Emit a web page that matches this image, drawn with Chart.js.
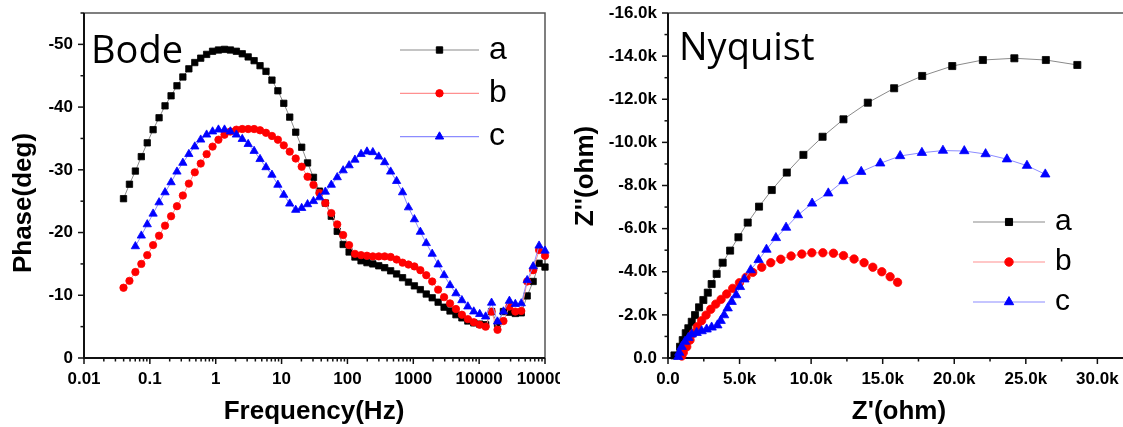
<!DOCTYPE html>
<html lang="en">
<head>
<meta charset="UTF-8">
<title>Bode and Nyquist plots</title>
<style>
  body { margin: 0; width: 1123px; height: 427px; overflow: hidden; background: #fff; position: relative; }
  canvas { position: absolute; top: 0; }
  #bode { left: 0; }
  #nyquist { left: 560px; }
</style>
</head>
<body>
<canvas id="bode" width="560" height="427"></canvas>
<canvas id="nyquist" width="575" height="427"></canvas>
<script src="https://cdn.jsdelivr.net/npm/chart.js"></script>
<script>
// ---- Bode data (frequency in Hz, phase in degrees) ----
const freqHz = [0.0398, 0.0490, 0.0603, 0.0742, 0.0913, 0.112, 0.138, 0.170, 0.210, 0.258,
  0.317, 0.391, 0.481, 0.592, 0.728, 0.896, 1.10, 1.36, 1.67, 2.06,
  2.53, 3.11, 3.83, 4.71, 5.80, 7.14, 8.79, 10.8, 13.3, 16.4,
  20.2, 24.8, 30.5, 37.6, 46.2, 56.9, 70.0, 86.1, 106, 130,
  161, 198, 243, 299, 368, 453, 558, 687, 845, 1040,
  1280, 1574, 1937, 2384, 2935, 3612, 4445, 5470, 6732, 8285,
  10200, 12550, 15440, 19010, 23390, 28790, 35430, 43600, 53660, 66040,
  81270, 100000];
const phaseA = [-25.4, -27.7, -29.8, -32.1, -34.3, -36.4, -38.3, -40.2, -41.8, -43.4,
  -44.8, -46.1, -47.1, -47.8, -48.4, -48.9, -49.1, -49.2, -49.1, -48.9,
  -48.5, -48.0, -47.4, -46.6, -45.7, -44.3, -42.6, -40.6, -38.4, -36.0,
  -33.6, -31.1, -28.8, -26.6, -24.7, -22.6, -20.2, -18.1, -16.9, -16.1,
  -15.5, -15.2, -15.0, -14.7, -14.4, -13.9, -13.4, -12.8, -12.1, -11.5,
  -10.9, -10.2, -9.6, -8.9, -8.1, -7.5, -6.9, -6.4, -5.9, -5.6,
  -5.4, -5.3, -7.4, -5.5, -7.4, -7.3, -7.1, -7.2, -9.9, -12.2,
  -15.1, -14.5];
const phaseB = [-11.2, -12.3, -13.7, -15.0, -16.4, -18.0, -19.5, -21.1, -22.6, -24.2,
  -25.9, -27.8, -29.6, -31.0, -32.5, -33.7, -34.8, -35.6, -36.1, -36.4,
  -36.5, -36.5, -36.5, -36.3, -35.9, -35.4, -34.8, -33.9, -32.9, -31.8,
  -30.5, -28.9, -27.6, -26.3, -24.7, -23.1, -21.3, -19.6, -18.0, -16.6,
  -16.4, -16.3, -16.2, -16.2, -16.2, -16.1, -15.7, -15.2, -14.9, -14.6,
  -14.0, -13.2, -12.2, -10.9, -9.7, -8.7, -7.8, -6.9, -6.2, -5.7,
  -5.3, -5.0, -7.4, -4.5, -5.9, -8.2, -7.4, -7.5, -12.2, -14.0,
  -17.2, -16.3];
// series c starts at the third frequency
const phaseC = [-17.8, -19.5, -21.3, -23.0, -24.8, -26.4, -28.0, -29.7,
  -31.1, -32.5, -33.7, -34.8, -35.6, -36.1, -36.4, -36.4, -36.1, -35.6,
  -34.9, -34.1, -33.0, -31.7, -30.4, -29.2, -27.6, -26.0, -24.6, -23.6,
  -23.9, -24.5, -25.0, -25.6, -26.5, -27.6, -28.8, -29.9, -30.7, -31.6,
  -32.5, -32.9, -32.8, -32.1, -31.2, -29.7, -28.2, -26.4, -24.0, -22.1,
  -20.1, -18.3, -16.6, -14.9, -13.2, -11.6, -10.3, -9.2, -8.2, -7.4,
  -7.0, -6.6, -8.8, -5.8, -7.4, -9.1, -8.6, -8.7, -12.4, -14.6,
  -17.9, -17.1];
const bodeXTicks = [0.01, 0.1, 1, 10, 100, 1000, 10000, 100000];
const bodeXLabels = ['0.01', '0.1', '1', '10', '100', '1000', '10000', '100000'];
const bodeYTicks = [0, -10, -20, -30, -40, -50];

// ---- Nyquist data (ohm) ----
const zReA = [450, 840, 1030, 1240, 1420, 1660, 1890, 2170, 2470, 2780,
  3050, 3400, 3820, 4340, 4920, 5570, 6360, 7250, 8300, 9460,
  10800, 12260, 13960, 15800, 17760, 19860, 22000, 24200, 26400, 28600];
const zImA = [-120, -520, -830, -1150, -1380, -1680, -1990, -2350, -2690, -3030,
  -3430, -3900, -4420, -4980, -5600, -6280, -7020, -7790, -8600, -9420,
  -10260, -11070, -11840, -12510, -13080, -13540, -13820, -13900, -13820, -13590];
const zReB = [960, 1070, 1310, 1540, 1770, 2050, 2350, 2660, 2990, 3340,
  3710, 4100, 4520, 4990, 5450, 5920, 6550, 7180, 7880, 8600,
  9350, 10050, 10820, 11560, 12260, 13000, 13700, 14310, 14940, 15520, 16040];
const zImB = [-90, -250, -520, -830, -1150, -1450, -1730, -1990, -2260, -2500,
  -2720, -2970, -3230, -3490, -3740, -3970, -4210, -4420, -4580, -4730,
  -4820, -4880, -4880, -4860, -4750, -4590, -4420, -4210, -4000, -3770, -3510];
const zReC = [720, 790, 960, 1190, 1420, 1660, 2000, 2350, 2700, 3050,
  3450, 3680, 3920, 4170, 4450, 4760, 5030, 5340, 5780, 6330,
  6880, 7540, 8250, 9080, 10070, 11200, 12260, 13500, 14830, 16220,
  17740, 19210, 20700, 22190, 23680, 25080, 26360];
const zImC = [-60, -250, -520, -760, -940, -1100, -1170, -1250, -1330, -1420,
  -1520, -1730, -1990, -2310, -2610, -2920, -3300, -3650, -4080, -4550,
  -5030, -5570, -6050, -6630, -7170, -7640, -8210, -8640, -9030, -9370,
  -9520, -9620, -9600, -9460, -9220, -8920, -8520];
const nyqXTicks = [0, 5000, 10000, 15000, 20000, 25000, 30000];
const nyqYTicks = [0, -2000, -4000, -6000, -8000, -10000, -12000, -14000, -16000];

const series = ['a', 'b', 'c'];
const markColor = ['#000000', '#ff0000', '#0000ff'];
const lineColor = ['#8a8a8a', '#ff9090', '#8c8cff'];
const markStyle = ['rect', 'circle', 'triangle'];

const pairs = (xs, ys) => ys.map((y, i) => ({ x: xs[i], y: y }));
const formatK = v => v === 0 ? '0.0' : (v / 1000).toFixed(1) + 'k';
const tickFont = { family: 'Arial, "Liberation Sans", sans-serif', size: 17, weight: 'bold' };

// minor tick helpers (positions between labelled ticks)
const logMinors = majors => majors.slice(0, -1).flatMap(d => [2, 3, 4, 5, 6, 7, 8, 9].map(m => d * m));
const midMinors = (majors, step, max) => {
  const out = [];
  majors.forEach(v => { if (Math.abs(v + step) <= Math.abs(max) + 1e-9) out.push(v + step); });
  return out;
};

function drawMarker(ctx, style, x, y, r, color) {
  ctx.fillStyle = color;
  ctx.strokeStyle = color;
  ctx.lineWidth = 1;
  Chart.helpers.drawPoint(ctx, { pointStyle: style, radius: r, rotation: 0, borderWidth: 1 }, x, y);
}

// frame, ticks, titles and legend in the Origin style
const panelPlugin = {
  id: 'panel',
  beforeDatasetsDraw(chart, args, o) {
    const { ctx, chartArea: a } = chart;
    const xs = chart.scales.x, ys = chart.scales.y;
    ctx.save();
    ctx.lineWidth = 1.5;
    ctx.strokeStyle = '#555';
    ctx.beginPath();
    ctx.moveTo(a.left, a.top); ctx.lineTo(a.right, a.top); ctx.lineTo(a.right, a.bottom);
    ctx.stroke();
    ctx.lineWidth = 2;
    ctx.strokeStyle = '#111';
    ctx.beginPath();
    ctx.moveTo(a.left, a.top); ctx.lineTo(a.left, a.bottom); ctx.lineTo(a.right, a.bottom);
    ctx.stroke();

    ctx.lineWidth = 1.5;
    const seg = (x1, y1, x2, y2) => { ctx.beginPath(); ctx.moveTo(x1, y1); ctx.lineTo(x2, y2); ctx.stroke(); };
    o.xMajor.forEach(v => { const p = xs.getPixelForValue(v); if (p <= a.right + 1) seg(p, a.bottom, p, a.bottom + 6); });
    o.xMinor.forEach(v => { const p = xs.getPixelForValue(v); if (p <= a.right + 1) seg(p, a.bottom, p, a.bottom + 3.5); });
    o.yMajor.forEach(v => { const p = ys.getPixelForValue(v); seg(a.left - 6, p, a.left, p); });
    o.yMinor.forEach(v => { const p = ys.getPixelForValue(v); seg(a.left - 3.5, p, a.left, p); });
    ctx.restore();
  },
  afterDraw(chart, args, o) {
    const { ctx } = chart;
    ctx.save();
    ctx.fillStyle = '#000';
    // panel title
    ctx.font = '38px "Open Sans", sans-serif';
    ctx.textBaseline = 'alphabetic';
    ctx.textAlign = 'left';
    ctx.fillText(o.title, o.titleX, o.titleY);
    // axis titles
    ctx.font = 'bold 26px Arial, "Liberation Sans", sans-serif';
    ctx.textAlign = 'center';
    ctx.textBaseline = 'middle';
    ctx.fillText(o.xTitle, o.xTitleX, o.xTitleY);
    ctx.save();
    ctx.translate(o.yTitleX, o.yTitleY);
    ctx.rotate(-Math.PI / 2);
    ctx.fillText(o.yTitle, 0, 0);
    ctx.restore();
    // legend
    const L = o.legend;
    chart.data.datasets.forEach((ds, i) => {
      const y = L.y + i * L.dy;
      ctx.strokeStyle = ds.borderColor;
      ctx.lineWidth = 1.2;
      ctx.beginPath(); ctx.moveTo(L.x1, y); ctx.lineTo(L.x2, y); ctx.stroke();
      drawMarker(ctx, ds.pointStyle, (L.x1 + L.x2) / 2, y, ds.pointRadius, ds.pointBackgroundColor);
      ctx.fillStyle = '#000';
      ctx.font = L.font;
      ctx.textAlign = 'left';
      ctx.textBaseline = 'middle';
      ctx.fillText(ds.label, L.textX, y);
    });
    ctx.restore();
  }
};

function makeDatasets(points, radii) {
  return series.map((name, i) => ({
    label: name,
    data: points[i],
    borderColor: lineColor[i],
    borderWidth: 1,
    pointStyle: markStyle[i],
    pointRadius: radii[i],
    pointBackgroundColor: markColor[i],
    pointBorderColor: markColor[i],
    pointBorderWidth: 0.8,
    tension: 0,
    clip: false,
    order: 2 - i
  }));
}

const commonOptions = {
  responsive: false,
  animation: false,
  devicePixelRatio: 1,
  events: [],
  plugins: { legend: { display: false }, tooltip: { enabled: false } }
};

// ---- Bode chart ----
new Chart(document.getElementById('bode'), {
  type: 'line',
  data: {
    datasets: makeDatasets([
      pairs(freqHz, phaseA),
      pairs(freqHz, phaseB),
      pairs(freqHz.slice(2), phaseC)
    ], [4.5, 3.7, 4.8])
  },
  options: Object.assign({}, commonOptions, {
    layout: { padding: { top: 13, right: 15, left: 0, bottom: 0 } },
    scales: {
      x: {
        type: 'logarithmic', min: 0.01, max: 100000,
        afterBuildTicks: s => { s.ticks = bodeXTicks.map(v => ({ value: v })); },
        afterFit: s => { s.height = 69; s.paddingLeft = 0; s.paddingRight = 0; },
        grid: { display: false, drawTicks: false },
        border: { display: false },
        ticks: { padding: 11, autoSkip: false, maxRotation: 0, color: '#000', font: tickFont,
          callback: v => bodeXLabels[bodeXTicks.indexOf(v)] }
      },
      y: {
        type: 'linear', min: -55, max: 0, reverse: true,
        afterBuildTicks: s => { s.ticks = bodeYTicks.map(v => ({ value: v })); },
        afterFit: s => { s.width = 84; s.paddingTop = 0; s.paddingBottom = 0; },
        grid: { display: false, drawTicks: false },
        border: { display: false },
        ticks: { padding: 11, color: '#000', font: tickFont, callback: v => String(v) }
      }
    },
    plugins: Object.assign({}, commonOptions.plugins, {
      panel: {
        xMajor: bodeXTicks, xMinor: logMinors(bodeXTicks),
        yMajor: bodeYTicks, yMinor: midMinors(bodeYTicks, -5, -55),
        title: 'Bode', titleX: 91, titleY: 63,
        xTitle: 'Frequency(Hz)', xTitleX: 314, xTitleY: 412,
        yTitle: 'Phase(deg)', yTitleX: 24, yTitleY: 203,
        legend: { x1: 400, x2: 479, y: 50, dy: 43.3, textX: 489, font: '32px Arial, "Liberation Sans", sans-serif' }
      }
    })
  }),
  plugins: [panelPlugin]
});

// ---- Nyquist chart ----
new Chart(document.getElementById('nyquist'), {
  type: 'line',
  data: {
    datasets: makeDatasets([
      pairs(zReA, zImA),
      pairs(zReB, zImB),
      pairs(zReC, zImC)
    ], [5.0, 4.2, 5.4])
  },
  options: Object.assign({}, commonOptions, {
    layout: { padding: { top: 13, right: 9, left: 0, bottom: 0 } },
    scales: {
      x: {
        type: 'linear', min: 0, max: 32000,
        afterBuildTicks: s => { s.ticks = nyqXTicks.map(v => ({ value: v })); },
        afterFit: s => { s.height = 69; s.paddingLeft = 0; s.paddingRight = 0; },
        grid: { display: false, drawTicks: false },
        border: { display: false },
        ticks: { padding: 11, autoSkip: false, maxRotation: 0, color: '#000', font: tickFont, callback: formatK }
      },
      y: {
        type: 'linear', min: -16000, max: 0, reverse: true,
        afterBuildTicks: s => { s.ticks = nyqYTicks.map(v => ({ value: v })); },
        afterFit: s => { s.width = 108; s.paddingTop = 0; s.paddingBottom = 0; },
        grid: { display: false, drawTicks: false },
        border: { display: false },
        ticks: { padding: 11, color: '#000', font: tickFont, callback: formatK }
      }
    },
    plugins: Object.assign({}, commonOptions.plugins, {
      panel: {
        xMajor: nyqXTicks, xMinor: midMinors(nyqXTicks, 2500, 32000),
        yMajor: nyqYTicks, yMinor: midMinors(nyqYTicks, -1000, -16000),
        title: 'Nyquist', titleX: 119, titleY: 60,
        xTitle: "Z'(ohm)", xTitleX: 339, xTitleY: 412,
        yTitle: "Z''(ohm)", yTitleX: 26, yTitleY: 176,
        legend: { x1: 413, x2: 485, y: 222, dy: 40, textX: 495, font: '30px Arial, "Liberation Sans", sans-serif' }
      }
    })
  }),
  plugins: [panelPlugin]
});
</script>
</body>
</html>
